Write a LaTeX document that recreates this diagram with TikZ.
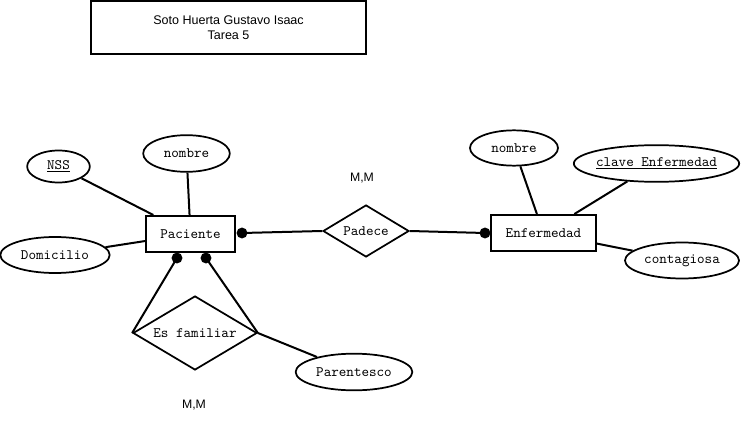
\documentclass[tikz,border=0pt]{standalone}
\usepackage{fontspec}
\setmainfont{Liberation Sans}
\usetikzlibrary{shapes.geometric}
\begin{document}
\begin{tikzpicture}[x=0.75pt,y=-0.75pt,
  lw/.style={line width=1.5pt},
  mf/.style={font=\ttfamily\fontsize{10.8}{12}\selectfont},
  ent/.style={draw,lw,rectangle,inner sep=0pt,minimum height=27pt,mf},
  attr/.style={draw,line width=1.3pt,ellipse,inner sep=0pt,mf},
  rel/.style={draw,line width=1.3pt,diamond,inner sep=0pt,mf},
  conn/.style={lw},
  dot/.style={fill=black},
  lbl/.style={font=\fontsize{9.2}{11}\selectfont}]
\useasboundingbox (0,0) rectangle (742,424);
% title
\node[draw,lw,minimum width=206pt,minimum height=40pt,align=center,inner sep=0pt,
  font=\fontsize{9.4}{11.5}\selectfont] (title) at (228.5,27.5) {Soto Huerta Gustavo Isaac\\Tarea 5};
% entities
\node[ent,minimum width=66.75pt] (pac) at (190.5,234) {\makebox[0pt]{Paciente}};
\node[ent,minimum width=78.75pt] (enf) at (543.5,233) {\makebox[0pt]{Enfermedad}};
% relationships
\node[rel,minimum width=64.5pt,minimum height=39pt] (pad) at (366,231) {\makebox[0pt]{Padece}};
\node[rel,minimum width=93pt,minimum height=55.5pt] (ef) at (195,333) {\makebox[0pt]{Es familiar}};
% attributes
\node[attr,minimum width=47pt,minimum height=24pt] (nss) at (58.5,166.5) {\makebox[0pt]{\underline{NSS}}};
\node[attr,minimum width=65pt,minimum height=27.5pt] (nom1) at (186.5,153.5) {\makebox[0pt]{nombre}};
\node[attr,minimum width=82pt,minimum height=27pt] (dom) at (55,255) {\makebox[0pt]{Domicilio}};
\node[attr,minimum width=87.5pt,minimum height=27.5pt] (par) at (354,372) {\makebox[0pt]{Parentesco}};
\node[attr,minimum width=66pt,minimum height=26.5pt] (nom2) at (514,148) {\makebox[0pt]{nombre}};
\node[attr,minimum width=124pt,minimum height=27.5pt] (clv) at (656.5,163.5) {\makebox[0pt]{\underline{clave Enfermedad}}};
\node[attr,minimum width=85.5pt,minimum height=27pt] (cont) at (682,260.5) {\makebox[0pt]{contagiosa}};
% labels
\node[lbl] (mm1) at (362,178) {M,M};
\node[lbl] (mm2) at (194,405) {M,M};
% dots
\coordinate (d1) at (242,233);
\coordinate (d2) at (485,233);
\coordinate (d3) at (177,258);
\coordinate (d4) at (206,258);
% connectors
\draw[conn] (nss) -- (pac);
\draw[conn] (nom1) -- (pac);
\draw[conn] (dom) -- (pac);
\draw[conn] (d1) -- (pad.west);
\draw[conn] (pad.east) -- (d2);
\draw[conn] (ef.west) -- (d3);
\draw[conn] (ef.east) -- (d4);
\draw[conn] (ef.east) -- (par);
\draw[conn] (nom2) -- (enf);
\draw[conn] (clv) -- (enf);
\draw[conn] (cont) -- (enf);
\fill[dot] (d1) circle[radius=4.1pt];
\fill[dot] (d2) circle[radius=4.1pt];
\fill[dot] (d3) circle[radius=4.1pt];
\fill[dot] (d4) circle[radius=4.1pt];
\end{tikzpicture}
\end{document}
